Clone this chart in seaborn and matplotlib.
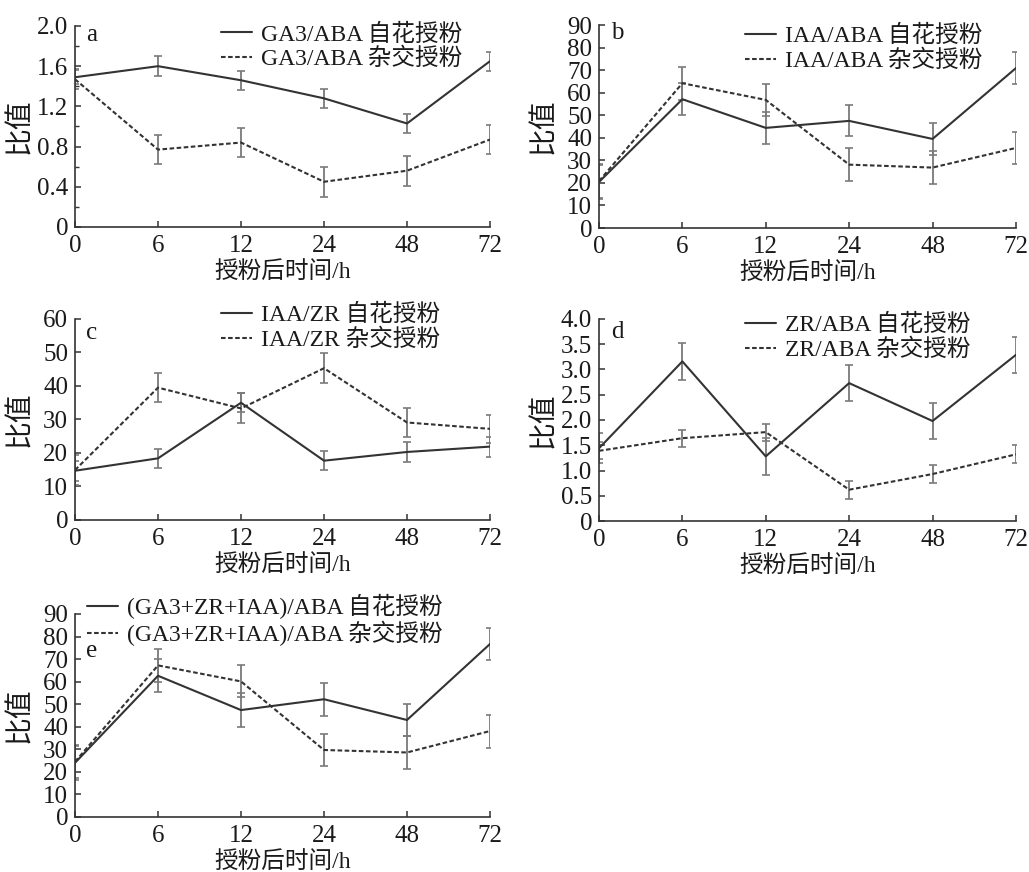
import numpy as np
import pandas as pd
import seaborn as sns
import matplotlib
matplotlib.use("Agg")
import matplotlib.pyplot as plt
from matplotlib.ticker import MultipleLocator

sns.set_theme(style="ticks")
plt.rcParams['font.family'] = ['Liberation Serif', 'Noto Sans CJK SC']
plt.rcParams['axes.unicode_minus'] = False

times = ["0", "6", "12", "24", "48", "72"]

# panel a: GA3/ABA
a_self = [1.49, 1.60, 1.46, 1.28, 1.03, 1.65]
a_self_err = [0.07, 0.10, 0.095, 0.095, 0.095, 0.095]
a_cross = [1.47, 0.77, 0.84, 0.45, 0.56, 0.87]
a_cross_err = [0.10, 0.146, 0.148, 0.148, 0.15, 0.148]

# panel b: IAA/ABA
b_self = [20.4, 57.1, 44.4, 47.5, 39.5, 70.9]
b_self_err = [7.4, 7.0, 7.2, 6.9, 7.0, 7.2]
b_cross = [20.8, 64.2, 56.8, 28.1, 26.8, 35.5]
b_cross_err = [7.4, 7.3, 7.2, 7.2, 7.3, 7.2]

# panel c: IAA/ZR
c_self = [14.7, 18.4, 35.0, 17.7, 20.3, 21.9]
c_self_err = [3.0, 2.8, 2.8, 2.8, 2.9, 3.0]
c_cross = [14.9, 39.5, 33.3, 45.3, 29.1, 27.2]
c_cross_err = [4.5, 4.4, 4.5, 4.4, 4.3, 4.2]

# panel d: ZR/ABA
d_self = [1.44, 3.16, 1.28, 2.73, 1.98, 3.29]
d_self_err = [0.30, 0.36, 0.37, 0.36, 0.36, 0.36]
d_cross = [1.39, 1.64, 1.76, 0.62, 0.93, 1.32]
d_cross_err = [0.17, 0.17, 0.17, 0.18, 0.17, 0.18]

# panel e: (GA3+ZR+IAA)/ABA
e_self = [24.0, 62.6, 47.4, 52.2, 43.0, 76.7]
e_self_err = [7.4, 7.4, 7.4, 7.4, 7.2, 7.3]
e_cross = [24.5, 67.2, 60.1, 29.7, 28.6, 38.1]
e_cross_err = [7.4, 7.3, 7.1, 7.3, 7.3, 7.3]

panels = [
    dict(tag="a", name="GA3/ABA", self_=a_self, se=a_self_err, cross=a_cross, ce=a_cross_err,
         ylim=(0, 2.0), major=0.4, minor=0.2, fmt="{:.1f}",
         rect=[0.0729, 0.7397, 0.4033, 0.2305], leg=(0.352, 1.012), lab=(0.041, 0.955)),
    dict(tag="b", name="IAA/ABA", self_=b_self, se=b_self_err, cross=b_cross, ce=b_cross_err,
         ylim=(0, 90), major=10, minor=None, fmt="{:.0f}",
         rect=[0.5821, 0.7385, 0.4052, 0.2328], leg=(0.351, 1.0), lab=(0.043, 0.96)),
    dict(tag="c", name="IAA/ZR", self_=c_self, se=c_self_err, cross=c_cross, ce=c_cross_err,
         ylim=(0, 60), major=10, minor=None, fmt="{:.0f}",
         rect=[0.0729, 0.4037, 0.4033, 0.2305], leg=(0.352, 1.075), lab=(0.041, 0.93)),
    dict(tag="d", name="ZR/ABA", self_=d_self, se=d_self_err, cross=d_cross, ce=d_cross_err,
         ylim=(0, 4.0), major=0.5, minor=None, fmt="{:.1f}",
         rect=[0.5821, 0.4025, 0.4052, 0.2317], leg=(0.351, 1.025), lab=(0.043, 0.935)),
    dict(tag="e", name="(GA3+ZR+IAA)/ABA", self_=e_self, se=e_self_err, cross=e_cross, ce=e_cross_err,
         ylim=(0, 90), major=10, minor=None, fmt="{:.0f}",
         rect=[0.0729, 0.0631, 0.4033, 0.2328], leg=(0.029, 1.1), lab=(0.041, 0.82)),
]

fig = plt.figure(figsize=(10.29, 8.72), dpi=100)
line_col = "#333333"
err_col = "#7a7a7a"
fs = 17
tfs = 18

for p in panels:
    ax = fig.add_axes(p["rect"])
    pos = np.arange(len(times))
    df = pd.DataFrame({
        "pos": np.concatenate([pos, pos]),
        "val": p["self_"] + p["cross"],
        "grp": [p["name"] + " 自花授粉"] * len(times) + [p["name"] + " 杂交授粉"] * len(times),
    })
    ax.errorbar(pos, p["self_"], yerr=p["se"], fmt="none", ecolor=err_col,
                elinewidth=1.3, capsize=2.6, capthick=1.2, zorder=1)
    ax.errorbar(pos, p["cross"], yerr=p["ce"], fmt="none", ecolor=err_col,
                elinewidth=1.3, capsize=2.6, capthick=1.2, zorder=1)
    sns.lineplot(data=df, x="pos", y="val", hue="grp", style="grp",
                 palette=[line_col, line_col], dashes=["", (2.2, 1.2)],
                 linewidth=1.5, ax=ax, zorder=3, legend=True)
    ax.set_xlim(0, 5)
    ax.set_ylim(*p["ylim"])
    ax.set_xticks(pos)
    ax.set_xticklabels(times)
    ticks = np.arange(p["ylim"][0], p["ylim"][1] + p["major"] / 2, p["major"])
    ax.set_yticks(ticks)
    ax.set_yticklabels(["0" if t == 0 else p["fmt"].format(t) for t in ticks])
    if p["minor"]:
        ax.yaxis.set_minor_locator(MultipleLocator(p["minor"]))
    for s in ["top", "right"]:
        ax.spines[s].set_visible(False)
    for s in ["left", "bottom"]:
        ax.spines[s].set_linewidth(1.2)
        ax.spines[s].set_color("#333333")
    ax.tick_params(axis="both", which="major", direction="in", length=4, width=1.1,
                   labelsize=tfs, colors="#333333", labelcolor="#1a1a1a")
    ax.tick_params(axis="x", which="major", pad=6)
    ax.tick_params(axis="y", which="major", pad=5)
    ax.tick_params(axis="y", which="minor", direction="in", length=3, width=1.0, colors="#333333")
    ax.set_xlabel("授粉后时间/h", fontsize=fs, labelpad=3, color="#1a1a1a")
    ax.set_ylabel("比值", fontsize=20, color="#1a1a1a")
    ax.yaxis.set_label_coords(-0.10, 0.5)
    ax.text(p["lab"][0], p["lab"][1], p["tag"], transform=ax.transAxes, fontsize=tfs,
            ha="center", va="center", color="#1a1a1a")
    leg = ax.legend(loc="upper left", bbox_to_anchor=p["leg"], frameon=False,
                    fontsize=fs, handlelength=1.3, handletextpad=0.4,
                    labelspacing=0.1, borderaxespad=0, borderpad=0)
    for t in leg.get_texts():
        t.set_color("#1a1a1a")
    ax.set_facecolor("none")

fig.savefig("out.png", dpi=100)
